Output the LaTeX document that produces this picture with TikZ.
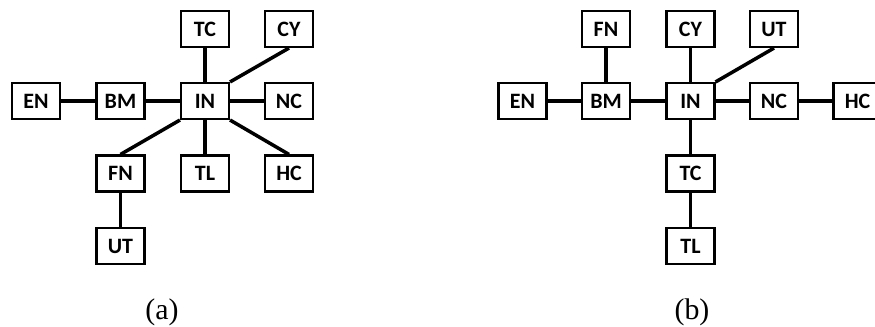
\documentclass[tikz,border=0pt]{standalone}
\usepackage{fontspec}
\setmainfont{Liberation Serif}
\newfontfamily\boxfont{Carlito}

\begin{document}
\begin{tikzpicture}[x=0.02cm,y=-0.02cm,
  box/.style={draw,line width=1.2pt,minimum width=0.96cm,minimum height=0.72cm,
    inner sep=0pt,font=\boxfont\bfseries\fontsize{12.5}{14}\selectfont},
  link/.style={line width=2pt},
  caption/.style={font=\fontsize{17}{20}\selectfont}]
\useasboundingbox (0,0) rectangle (875,327);

% (a)
\node[box] (aTC) at (205,29) {TC};
\node[box] (aCY) at (289,29) {CY};

\node[box] (aEN) at (36,101) {EN};
\node[box] (aBM) at (120.5,101) {BM};
\node[box] (aIN) at (205,101) {IN};
\node[box] (aNC) at (289,101) {NC};

\node[box] (aFN) at (120.5,173.5) {FN};
\node[box] (aTL) at (205,173.5) {TL};
\node[box] (aHC) at (289,173.5) {HC};

\node[box] (aUT) at (120.5,246) {UT};

\draw[link] (aEN) -- (aBM);
\draw[link] (aBM) -- (aIN);
\draw[link] (aIN) -- (aNC);
\draw[link] (aIN) -- (aTC);
\draw[link] (aIN) -- (aTL);
\draw[link] (aIN.north east) -- (aCY.south);
\draw[link] (aIN.south east) -- (aHC.north);
\draw[link] (aIN.south west) -- (aFN.north);
\draw[link] (aFN) -- (aUT);

\node[caption] (acap) at (162,312) {(a)};

% (b)
\node[box] (bFN) at (606,29) {FN};
\node[box] (bCY) at (690.5,29) {CY};
\node[box] (bUT) at (774,29) {UT};

\node[box] (bEN) at (522.5,101) {EN};
\node[box] (bBM) at (606,101) {BM};
\node[box] (bIN) at (690.5,101) {IN};
\node[box] (bNC) at (774,101) {NC};
\node[box] (bHC) at (857.5,101) {HC};

\node[box] (bTC) at (690.5,173.5) {TC};
\node[box] (bTL) at (690.5,246) {TL};

\draw[link] (bEN) -- (bBM);
\draw[link] (bBM) -- (bIN);
\draw[link] (bIN) -- (bNC);
\draw[link] (bNC) -- (bHC);
\draw[link] (bBM) -- (bFN);
\draw[link] (bIN) -- (bCY);
\draw[link] (bIN.north east) -- (bUT.south);
\draw[link] (bIN) -- (bTC);
\draw[link] (bTC) -- (bTL);

\node[caption] (bcap) at (692,312) {(b)};
\end{tikzpicture}
\end{document}
